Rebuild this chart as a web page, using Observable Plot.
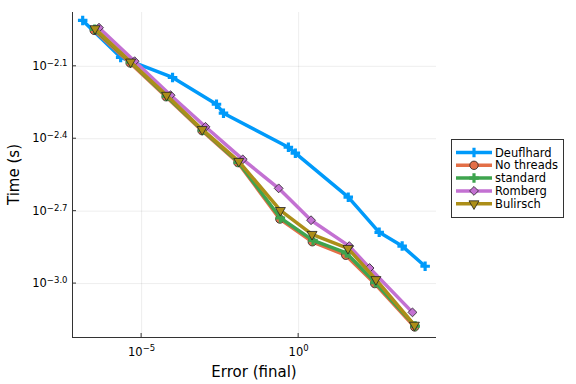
<!DOCTYPE html>
<html><head><meta charset="utf-8">
<script src="https://cdn.jsdelivr.net/npm/d3@7"></script>
<script src="https://cdn.jsdelivr.net/npm/@observablehq/plot@0.6"></script>
<style>
body{margin:0;background:#fff}
svg{font-family:"DejaVu Sans",sans-serif}
</style>
</head><body><div id="chart"></div>
<script>
// ---------------- data ----------------
const seriesNames = ["Deuflhard", "No threads", "standard", "Romberg", "Bulirsch"];

const deuflhardErr  = [1.33e-7, 2.15e-6, 9.66e-5, 2.42e-3, 4.04e-3, 0.471, 0.785, 38.0, 367, 1977, 10640];
const deuflhardTime = [0.01230, 0.00865, 0.00714, 0.00553, 0.00508, 0.00367, 0.00347, 0.00228, 0.00163, 0.00143, 0.00118];

const noThreadsErr  = [3.09e-7, 4.31e-6, 6.01e-5, 8.38e-4, 0.0117, 0.252, 2.72, 31.6, 264, 4943];
const noThreadsTime = [0.01119, 0.00820, 0.00594, 0.00430, 0.00317, 0.00185, 0.00149, 0.00131, 0.00100, 0.000661];

const standardErr   = [3.21e-7, 4.47e-6, 6.22e-5, 8.69e-4, 0.0121, 0.262, 2.87, 32.8, 274, 5129];
const standardTime  = [0.01130, 0.00826, 0.00597, 0.00432, 0.00318, 0.00187, 0.00151, 0.00134, 0.00101, 0.000667];

const rombergErr    = [4.40e-7, 5.98e-6, 8.36e-5, 1.08e-3, 0.0166, 0.231, 2.48, 40.9, 181, 4207];
const rombergTime   = [0.01148, 0.00834, 0.00603, 0.00446, 0.00327, 0.00248, 0.00183, 0.00143, 0.00116, 0.000760];

const bulirschErr   = [3.28e-7, 4.47e-6, 6.24e-5, 8.49e-4, 0.0124, 0.262, 2.67, 37.2, 288, 4864];
const bulirschTime  = [0.01138, 0.00828, 0.00603, 0.00435, 0.00321, 0.00201, 0.00160, 0.00140, 0.00104, 0.000673];

const xTicks = [1e-5, 1];
const xTickLabels = [["10", "\u22125"], ["10", "0"]];
const yTicks = [0.0079433, 0.0039811, 0.0019953, 0.0010000];
const yTickLabels = [["10", "\u22122.1"], ["10", "\u22122.4"], ["10", "\u22122.7"], ["10", "\u22123.0"]];

// ---------------- styling ----------------
const colors = ["#009AFA", "#E36F47", "#3EA44E", "#C371D2", "#AC8E18"];
const downTriangle = {
  draw(ctx, size) {
    const a = Math.sqrt(size) * 1.25, h = a * Math.sqrt(3) / 2;
    ctx.moveTo(-a / 2, -h / 3);
    ctx.lineTo(a / 2, -h / 3);
    ctx.lineTo(0, 2 * h / 3);
    ctx.closePath();
  }
};
const markerStyle = [
  {symbol: "cross", d3sym: d3.symbolCross, r: 4.0, stroke: "none"},
  {symbol: "circle", d3sym: d3.symbolCircle, r: 4.2, stroke: "#222"},
  {symbol: "cross", d3sym: d3.symbolCross, r: 4.0, stroke: "none"},
  {symbol: "diamond2", d3sym: d3.symbolDiamond2, r: 4.0, stroke: "#222"},
  {symbol: downTriangle, d3sym: downTriangle, r: 4.5, stroke: "#222"}
];

const errs = [deuflhardErr, noThreadsErr, standardErr, rombergErr, bulirschErr];
const times = [deuflhardTime, noThreadsTime, standardTime, rombergTime, bulirschTime];

const xDomain = [6.3e-8, 24500];
const yDomain = [0.000598, 0.01327];

const marks = [
  Plot.gridX(xTicks, {stroke: "#000", strokeOpacity: 0.1, strokeWidth: 0.7}),
  Plot.gridY(yTicks, {stroke: "#000", strokeOpacity: 0.1, strokeWidth: 0.7}),
  Plot.axisX(xTicks, {tickSize: 0, tickPadding: 10, tickFormat: d => "T" + xTicks.indexOf(d), label: null}),
  Plot.axisY(yTicks, {tickSize: 0, tickPadding: 5, tickFormat: d => "T" + yTicks.indexOf(d), label: null}),
  Plot.ruleX([xDomain[0]], {stroke: "#333", strokeWidth: 1}),
  Plot.ruleY([yDomain[0]], {stroke: "#333", strokeWidth: 1})
];

seriesNames.forEach((name, i) => {
  const rows = errs[i].map((e, j) => ({err: e, time: times[i][j]}));
  marks.push(Plot.line(rows, {x: "err", y: "time", stroke: colors[i], strokeWidth: 3.5, strokeLinejoin: "round"}));
  const m = markerStyle[i];
  marks.push(Plot.dot(rows, {x: "err", y: "time", symbol: m.symbol, r: m.r, fill: colors[i],
    stroke: m.stroke, strokeWidth: 0.8}));
});

const plot = Plot.plot({
  width: 576, height: 384,
  marginLeft: 72, marginRight: 140, marginTop: 12, marginBottom: 47,
  style: {fontFamily: "DejaVu Sans, sans-serif", background: "#fff", fontSize: "11.5px"},
  x: {type: "log", domain: xDomain},
  y: {type: "log", domain: yDomain},
  marks
});
document.getElementById("chart").appendChild(plot);

// ---- superscript tick labels ----
const svg = d3.select(plot);
function superscript(sel, labels) {
  sel.each(function () {
    const t = d3.select(this);
    const idx = +t.text().slice(1);
    const [base, exp] = labels[idx];
    t.text(null);
    t.append("tspan").style("font-size", "11.5px").text(base);
    t.append("tspan").attr("dy", "-0.5em").style("font-size", "8.5px").text(exp);
  });
}
superscript(svg.selectAll('g[aria-label="x-axis tick label"] text'), xTickLabels);
superscript(svg.selectAll('g[aria-label="y-axis tick label"] text'), yTickLabels);
svg.selectAll('g[aria-label="x-axis tick label"], g[aria-label="y-axis tick label"]').attr("fill", "#000");

// ---- inward ticks from Plot's scales ----
const sx = plot.scale("x"), sy = plot.scale("y");
const x0 = sx.apply(xDomain[0]), y0 = sy.apply(yDomain[0]);
const tg = svg.append("g").attr("stroke", "#333").attr("stroke-width", 1);
xTicks.forEach(v => { const px = sx.apply(v); tg.append("line").attr("x1", px).attr("x2", px).attr("y1", y0).attr("y2", y0 - 4); });
yTicks.forEach(v => { const py = sy.apply(v); tg.append("line").attr("x1", x0).attr("x2", x0 + 4).attr("y1", py).attr("y2", py); });

// ---- axis titles ----
svg.append("text").attr("x", (x0 + sx.apply(xDomain[1])) / 2).attr("y", 377)
  .attr("text-anchor", "middle").style("font-size", "15px").attr("fill", "#000").text("Error (final)");
svg.append("text").attr("transform", `translate(19,${(y0 + sy.apply(yDomain[1])) / 2}) rotate(-90)`)
  .attr("text-anchor", "middle").style("font-size", "15px").attr("fill", "#000").text("Time (s)");

// ---- legend ----
const lg = svg.append("g");
lg.append("rect").attr("x", 451.5).attr("y", 139.5).attr("width", 112).attr("height", 78)
  .attr("fill", "#fff").attr("stroke", "#333").attr("stroke-width", 1);
seriesNames.forEach((name, i) => {
  const yy = 152.5 + i * 12.8;
  lg.append("line").attr("x1", 456).attr("x2", 492).attr("y1", yy).attr("y2", yy)
    .attr("stroke", colors[i]).attr("stroke-width", 3.5);
  const m = markerStyle[i];
  lg.append("path").attr("transform", `translate(474,${yy})`)
    .attr("d", d3.symbol(m.d3sym, m.r * m.r * Math.PI)())
    .attr("fill", colors[i]).attr("stroke", m.stroke).attr("stroke-width", 0.8);
  lg.append("text").attr("x", 495).attr("y", yy).attr("dy", "0.35em")
    .attr("text-anchor", "start").style("font-size", "11.5px")
    .attr("fill", "#000").text(name);
});
</script>
</body></html>
